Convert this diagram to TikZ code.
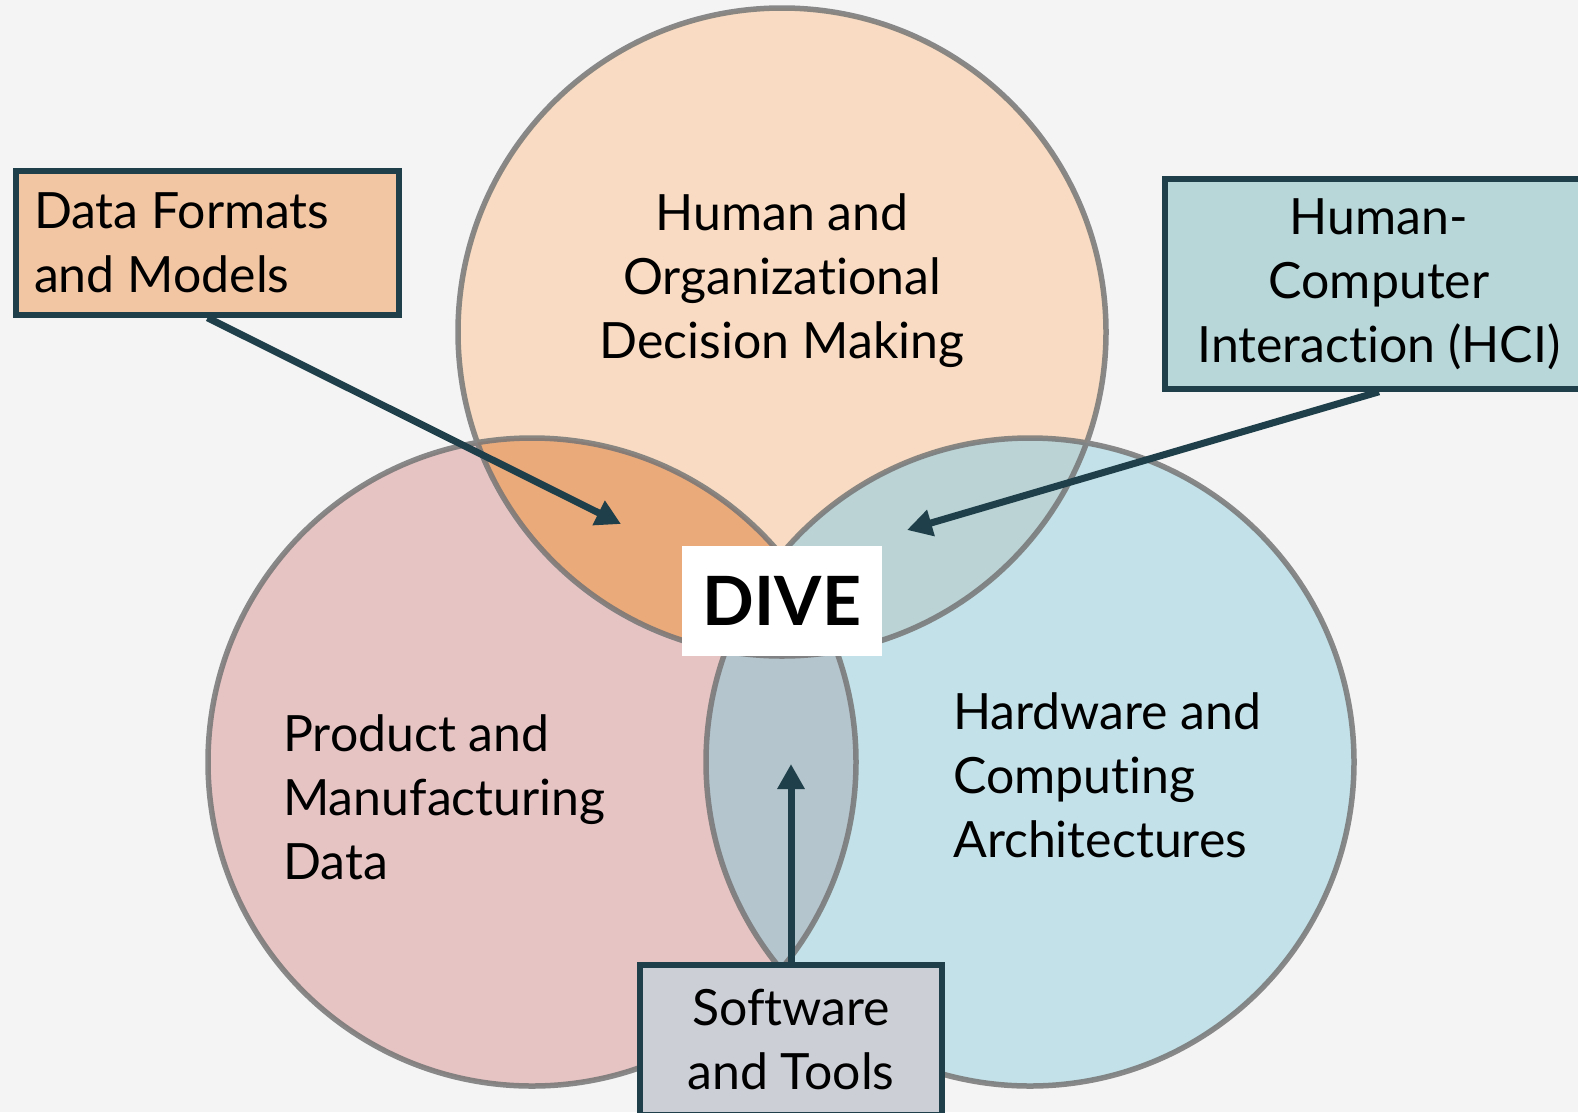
\documentclass[tikz,border=0pt]{standalone}
\usepackage{fontspec}
\setmainfont{Lato}[Ligatures=NoCommon]
\usetikzlibrary{arrows.meta}

\definecolor{backg}{RGB}{244, 244, 244}
\definecolor{peach}{RGB}{248, 219, 194}
\definecolor{rose}{RGB}{231, 196, 196}
\definecolor{sky}{RGB}{195, 225, 232}
\definecolor{amber}{RGB}{235, 170, 122}
\definecolor{sage}{RGB}{187, 211, 213}
\definecolor{slate}{RGB}{180, 197, 205}
\definecolor{rim}{RGB}{118, 118, 118}
\definecolor{ink}{RGB}{31, 64, 74}
\definecolor{boxtan}{RGB}{242, 197, 163}
\definecolor{boxteal}{RGB}{183, 215, 217}
\definecolor{boxgray}{RGB}{204, 207, 214}

\begin{document}
\begin{tikzpicture}[x=1pt, y=-1pt,
    txt/.style={font=\fontsize{50}{64}\selectfont, inner sep=0pt},
    infobox/.style={txt, draw=ink, line width=5.5pt},
    link/.style={draw=ink, line width=7pt, -{Triangle[length=25pt, width=26pt]}}]
  \useasboundingbox (0, 0) rectangle (1578, 1112);
  \fill[backg] (0, 0) rectangle (1578, 1112);

  \coordinate (C1) at (782, 332);
  \coordinate (C2) at (532, 762);
  \coordinate (C3) at (1030, 762);

  \fill[peach] (C1) circle[radius=324pt];
  \fill[rose] (C2) circle[radius=324pt];
  \fill[sky] (C3) circle[radius=324pt];
  \begin{scope}
    \clip (C1) circle[radius=324pt];
    \fill[amber] (C2) circle[radius=324pt];
    \fill[sage] (C3) circle[radius=324pt];
  \end{scope}
  \begin{scope}
    \clip (C2) circle[radius=324pt];
    \fill[slate] (C3) circle[radius=324pt];
  \end{scope}
  \draw[rim, line width=5.5pt, draw opacity=0.85] (C1) circle[radius=324pt]
    (C2) circle[radius=324pt] (C3) circle[radius=324pt];

  \node[txt, anchor=base, align=center] (hod) at (782, 358)
    {Human and\\Organizational\\Decision Making};
  \node[txt, anchor=base west, align=left] (pmd) at (283, 879)
    {Product and\\Manufacturing\\Data};
  \node[txt, anchor=base west, align=left] (hca) at (953, 857)
    {Hardware and\\Computing\\Architectures};

  \node[fill=white, minimum width=200pt, minimum height=110pt,
    font=\fontsize{68}{68}\selectfont\bfseries] (dive) at (782, 601) {DIVE};

  \node[infobox, fill=boxtan, text width=347pt, inner xsep=18pt,
    minimum height=144pt, align=flush left] (fmt) at (207.5, 243)
    {Data Formats\\and Models};
  \node[infobox, fill=boxteal, minimum width=428pt, minimum height=210pt,
    align=center] (hci) at (1379, 284) {Human-\\Computer\\Interaction (HCI)};
  \node[infobox, fill=boxgray, minimum width=302pt, minimum height=150pt,
    align=center] (swt) at (791, 1040) {Software\\and Tools};

  \coordinate (fmttip) at (621, 524);
  \coordinate (hcitip) at (907, 530);
  \coordinate (swttip) at (791, 764);

  \draw[link] (fmt.south) -- (fmttip);
  \draw[link] (hci.south) -- (hcitip);
  \draw[link] (swt.north) -- (swttip);
\end{tikzpicture}
\end{document}
